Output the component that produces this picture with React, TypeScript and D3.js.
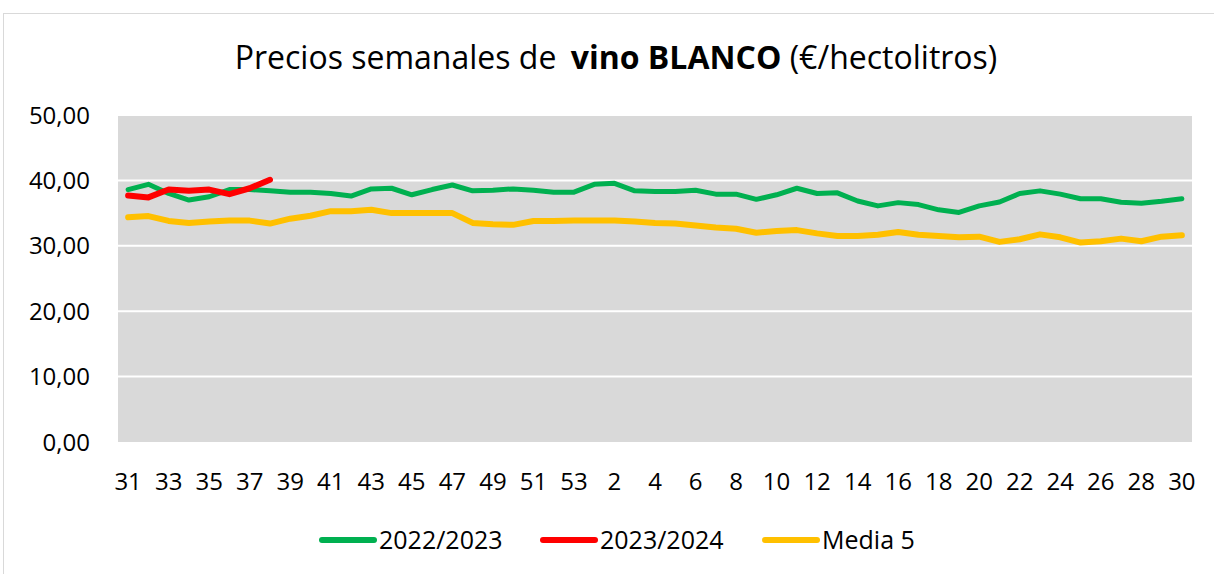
import React from "react";
import * as d3 from "d3";

const weeks: string[] = [
  "31","32","33","34","35","36","37","38","39","40","41","42","43","44","45","46","47","48","49","50","51","52","53",
  "1","2","3","4","5","6","7","8","9","10","11","12","13","14","15","16","17","18","19","20","21","22","23","24","25","26","27","28","29","30",
];

const serie2022: number[] = [
  38.6, 39.4, 38.0, 37.0, 37.5, 38.6, 38.6, 38.4, 38.2, 38.2, 38.0, 37.6, 38.7, 38.8,
  37.8, 38.6, 39.3, 38.4, 38.5, 38.7, 38.5, 38.2, 38.2, 39.4, 39.55, 38.4, 38.3, 38.3, 38.5,
  37.9, 37.9, 37.1, 37.8, 38.8, 38.0, 38.1, 36.85, 36.1, 36.6, 36.3, 35.5, 35.1,
  36.1, 36.7, 38.0, 38.4, 37.9, 37.2, 37.2, 36.65, 36.5, 36.8, 37.2,
];

const serie2023: number[] = [37.7, 37.4, 38.6, 38.4, 38.6, 37.9, 38.8, 40.1];

const media5: number[] = [
  34.35, 34.55, 33.8, 33.5, 33.7, 33.85, 33.85, 33.4, 34.15, 34.6, 35.3, 35.3, 35.5, 35.0,
  35.0, 35.0, 35.0, 33.5, 33.3, 33.2, 33.8, 33.8, 33.85, 33.85, 33.85, 33.7, 33.5, 33.4, 33.1,
  32.8, 32.6, 32.0, 32.25, 32.4, 31.9, 31.5, 31.5, 31.7, 32.1, 31.7, 31.5, 31.3,
  31.4, 30.6, 31.0, 31.75, 31.3, 30.5, 30.7, 31.1, 30.7, 31.4, 31.6,
];

const yTicks: number[] = [0, 10, 20, 30, 40, 50];

const seriesNames = ["2022/2023", "2023/2024", "Media 5"];
const seriesColors = ["#00b050", "#ff0000", "#ffc000"];

const FONT = "'Open Sans', sans-serif";

export default function App() {
  const W = 1214, H = 574;
  const left = 118, right = 1192, top = 115, bottom = 442;
  const x = d3.scaleBand<string>().domain(weeks).range([left, right]);
  const cx = (i: number) => (x(weeks[i]) as number) + x.bandwidth() / 2;
  const y = d3.scaleLinear().domain([0, 50]).range([bottom, top]);
  const line = d3.line<number>().x((_, i) => cx(i)).y((v) => y(v)).curve(d3.curveLinear);
  const fmt = (v: number) => v.toFixed(2).replace(".", ",");
  const data = [serie2022, serie2023, media5];
  const widths = [5, 6, 6];
  const legendItems = [
    { x0: 322, tx: 379 },
    { x0: 543, tx: 600 },
    { x0: 765, tx: 822 },
  ];
  return (
    <svg width={W} height={H} style={{ position: "absolute", left: 0, top: 0 }} fontFamily={FONT}>
      <rect x={0} y={0} width={W} height={H} fill="#fff" />
      <rect x={3.5} y={13.5} width={W + 10} height={H + 10} fill="none" stroke="#d9d9d9" strokeWidth={1} />
      <text x={616} y={69} textAnchor="middle" fontSize={32} fill="#000">
        <tspan>Precios semanales de </tspan>
        <tspan fontWeight="bold" dx={6}>vino BLANCO</tspan>
        <tspan> (€/hectolitros)</tspan>
      </text>
      <rect x={left} y={top} width={right - left} height={bottom - top} fill="#d9d9d9" />
      {yTicks.map((t) => (
        <g key={t}>
          {t > 0 && <line x1={left} x2={right} y1={y(t)} y2={y(t)} stroke="#fff" strokeWidth={2} />}
          <text x={90} y={y(t)} dy="0.36em" textAnchor="end" fontSize={24} fill="#000">{fmt(t)}</text>
        </g>
      ))}
      {weeks.map((w, i) => i % 2 === 0 ? (
        <text key={w} x={cx(i)} y={481} dy="0.36em" textAnchor="middle" fontSize={24} fill="#000">{w}</text>
      ) : null)}
      {data.map((d, si) => (
        <path key={si} d={line(d) || ""} fill="none" stroke={seriesColors[si]} strokeWidth={widths[si]} strokeLinejoin="round" strokeLinecap="round" />
      ))}
      {legendItems.map((it, si) => (
        <g key={si}>
          <line x1={it.x0} x2={it.x0 + 52} y1={540} y2={540} stroke={seriesColors[si]} strokeWidth={6} strokeLinecap="round" />
          <text x={it.tx} y={540} dy="0.36em" fontSize={25} fill="#000">{seriesNames[si]}</text>
        </g>
      ))}
    </svg>
  );
}
